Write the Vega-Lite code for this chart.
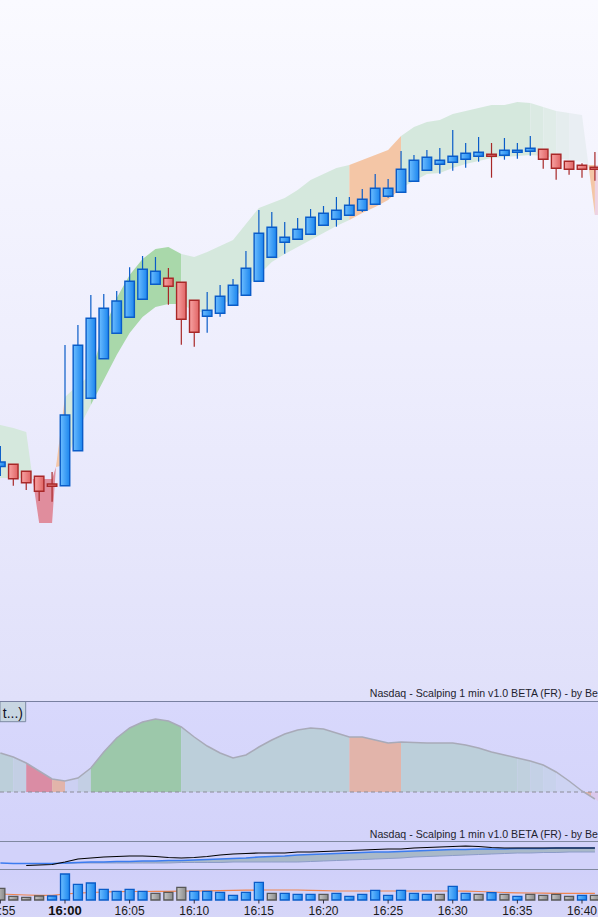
{
"$schema": "https://vega.github.io/schema/vega-lite/v6.json",
"background": "#D8D8FA",
"padding": 0,
"autosize": {"type": "none"},
"width": 598,
"height": 917,
"config": {"view": {"stroke": null}, "scale": {"continuousPadding": 0}},
"resolve": {"scale": {"y": "independent", "color": "independent"}},
"datasets": {
"candles": [
{"t":"2024-01-02T15:55:00","o":234.5,"h":255,"l":225,"c":239,"vol":117,"vc":"dn","vma":60,"osc":39,"blu":6},
{"t":"2024-01-02T15:56:00","o":236.7,"h":236.7,"l":215.3,"c":222.3,"vol":37,"vc":"dn","vma":55,"osc":35,"blu":5.5},
{"t":"2024-01-02T15:57:00","o":229.7,"h":229.7,"l":211,"c":218.3,"vol":27,"vc":"dn","vma":50,"osc":29,"blk":3.5,"blu":5.5},
{"t":"2024-01-02T15:58:00","o":224.7,"h":224.7,"l":200,"c":209.7,"vol":40,"vc":"dn","vma":47,"osc":21,"blk":4,"blu":5.5},
{"t":"2024-01-02T15:59:00","o":217,"h":229,"l":199.3,"c":214.7,"vol":40,"vc":"up","vma":47,"osc":13,"blk":4.5,"blu":5.5},
{"t":"2024-01-02T16:00:00","o":215.3,"h":356,"l":215.3,"c":286,"vol":260,"vc":"up","vma":60,"osc":11,"blk":7,"blu":6,"lwr":5.5},
{"t":"2024-01-02T16:01:00","o":250.3,"h":376,"l":250.3,"c":355.7,"vol":157,"vc":"up","vma":68,"osc":14,"blk":10,"blu":6.5,"lwr":6},
{"t":"2024-01-02T16:02:00","o":302.7,"h":406,"l":302.7,"c":382.7,"vol":170,"vc":"up","vma":75,"osc":24,"blk":11,"blu":7,"lwr":6},
{"t":"2024-01-02T16:03:00","o":342.3,"h":407,"l":342.3,"c":392.7,"vol":107,"vc":"up","vma":80,"osc":40,"blk":12,"blu":7,"lwr":6},
{"t":"2024-01-02T16:04:00","o":367.7,"h":410,"l":367.7,"c":400,"vol":87,"vc":"up","vma":83,"osc":54,"blk":12.5,"blu":7.5,"lwr":6},
{"t":"2024-01-02T16:05:00","o":383.7,"h":433.7,"l":383.7,"c":419.7,"vol":107,"vc":"up","vma":85,"osc":64,"blk":13,"blu":7.5,"lwr":6},
{"t":"2024-01-02T16:06:00","o":401.7,"h":445,"l":401.7,"c":431.7,"vol":87,"vc":"up","vma":85,"osc":70,"blk":13,"blu":8,"lwr":6},
{"t":"2024-01-02T16:07:00","o":416.7,"h":444,"l":416.7,"c":429.7,"vol":67,"vc":"dn","vma":86,"osc":73,"blk":12.5,"blu":8,"lwr":6},
{"t":"2024-01-02T16:08:00","o":422.7,"h":433,"l":396.3,"c":414.7,"vol":77,"vc":"dn","vma":87,"osc":71,"blk":11.5,"blu":8.5,"lwr":6},
{"t":"2024-01-02T16:09:00","o":418.7,"h":418.7,"l":356.3,"c":381.7,"vol":127,"vc":"dn","vma":88,"osc":65,"blk":11,"blu":8.5,"lwr":6.5},
{"t":"2024-01-02T16:10:00","o":400.7,"h":400.7,"l":354.3,"c":368.7,"vol":87,"vc":"up","vma":90,"osc":55,"blk":11.5,"blu":9,"lwr":6.5},
{"t":"2024-01-02T16:11:00","o":384.7,"h":409,"l":368.3,"c":390.7,"vol":87,"vc":"up","vma":92,"osc":46,"blk":12.5,"blu":9.5,"lwr":6.5},
{"t":"2024-01-02T16:12:00","o":387.7,"h":416,"l":384.3,"c":404.7,"vol":77,"vc":"up","vma":94,"osc":39,"blk":14,"blu":10,"lwr":6.5},
{"t":"2024-01-02T16:13:00","o":395.7,"h":422,"l":395.7,"c":415.7,"vol":47,"vc":"up","vma":96,"osc":34,"blk":15,"blu":10.5,"lwr":7},
{"t":"2024-01-02T16:14:00","o":405.7,"h":450,"l":405.7,"c":432.7,"vol":77,"vc":"up","vma":98,"osc":37,"blk":15.5,"blu":11,"lwr":7},
{"t":"2024-01-02T16:15:00","o":419.7,"h":491,"l":419.7,"c":467.7,"vol":177,"vc":"up","vma":100,"osc":45,"blk":16,"blu":12,"lwr":7},
{"t":"2024-01-02T16:16:00","o":443.7,"h":489,"l":443.7,"c":473.7,"vol":67,"vc":"dn","vma":100,"osc":52,"blk":16,"blu":12.5,"lwr":7},
{"t":"2024-01-02T16:17:00","o":458.7,"h":479,"l":447.3,"c":463.7,"vol":67,"vc":"up","vma":100,"osc":58,"blk":16,"blu":13,"lwr":7},
{"t":"2024-01-02T16:18:00","o":461.7,"h":483,"l":461.7,"c":471.7,"vol":57,"vc":"up","vma":100,"osc":62,"blk":17,"blu":14,"lwr":7},
{"t":"2024-01-02T16:19:00","o":466.7,"h":492,"l":466.7,"c":483.7,"vol":57,"vc":"up","vma":97,"osc":64,"blk":17,"blu":14.5,"lwr":7.5},
{"t":"2024-01-02T16:20:00","o":475.7,"h":495,"l":475.7,"c":487.7,"vol":57,"vc":"dn","vma":93,"osc":63,"blk":17.5,"blu":15,"lwr":8},
{"t":"2024-01-02T16:21:00","o":481.7,"h":504,"l":474.3,"c":490.7,"vol":67,"vc":"up","vma":90,"osc":59,"blk":18,"blu":15.5,"lwr":8.5},
{"t":"2024-01-02T16:22:00","o":485.7,"h":504,"l":485.7,"c":495.7,"vol":37,"vc":"up","vma":90,"osc":55,"blk":18.5,"blu":16,"lwr":9},
{"t":"2024-01-02T16:23:00","o":490.7,"h":512,"l":489,"c":501.7,"vol":57,"vc":"up","vma":90,"osc":55,"blk":19,"blu":16.5,"lwr":9.5},
{"t":"2024-01-02T16:24:00","o":496.7,"h":527,"l":496.7,"c":512.7,"vol":97,"vc":"up","vma":90,"osc":52,"blk":19.5,"blu":17,"lwr":10},
{"t":"2024-01-02T16:25:00","o":504.7,"h":522,"l":503.3,"c":512.7,"vol":47,"vc":"up","vma":90,"osc":49,"blk":20,"blu":17,"lwr":10.5},
{"t":"2024-01-02T16:26:00","o":508.7,"h":550,"l":508.7,"c":531.7,"vol":97,"vc":"up","vma":90,"osc":50,"blk":20,"blu":17.5,"lwr":11},
{"t":"2024-01-02T16:27:00","o":519.7,"h":546,"l":519.7,"c":540.7,"vol":67,"vc":"up","vma":90,"osc":49.5,"blk":21,"blu":18,"lwr":12},
{"t":"2024-01-02T16:28:00","o":530.7,"h":551,"l":530.7,"c":543.7,"vol":57,"vc":"up","vma":90,"osc":49,"blk":21.5,"blu":18.5,"lwr":12.5},
{"t":"2024-01-02T16:29:00","o":536.7,"h":553,"l":527.3,"c":540.7,"vol":57,"vc":"dn","vma":90,"osc":49,"blk":22,"blu":19,"lwr":13},
{"t":"2024-01-02T16:30:00","o":538.7,"h":571,"l":530.3,"c":544.7,"vol":137,"vc":"up","vma":90,"osc":49,"blk":22.5,"blu":19.5,"lwr":13.5},
{"t":"2024-01-02T16:31:00","o":541.7,"h":558,"l":533.3,"c":547.7,"vol":67,"vc":"up","vma":88,"osc":47,"blk":23,"blu":19.5,"lwr":14},
{"t":"2024-01-02T16:32:00","o":544.7,"h":564,"l":539.3,"c":548.7,"vol":57,"vc":"dn","vma":85,"osc":44,"blk":22.5,"blu":20,"lwr":14.5},
{"t":"2024-01-02T16:33:00","o":546.7,"h":558,"l":523.3,"c":544.7,"vol":73,"vc":"up","vma":80,"osc":40,"blk":21.5,"blu":20,"lwr":15},
{"t":"2024-01-02T16:34:00","o":545.7,"h":563,"l":541.3,"c":550.7,"vol":57,"vc":"dn","vma":75,"osc":37,"blk":21,"blu":20,"lwr":15.5},
{"t":"2024-01-02T16:35:00","o":548.7,"h":558,"l":542.3,"c":550.7,"vol":37,"vc":"up","vma":72,"osc":34,"blk":21,"blu":20.5,"lwr":16},
{"t":"2024-01-02T16:36:00","o":549.7,"h":565,"l":545.3,"c":552.7,"vol":57,"vc":"dn","vma":70,"osc":31,"blk":21,"blu":20.5,"lwr":16},
{"t":"2024-01-02T16:37:00","o":551.7,"h":551.7,"l":532.3,"c":541.7,"vol":47,"vc":"dn","vma":68,"osc":27,"blk":21,"blu":20.5,"lwr":16.5},
{"t":"2024-01-02T16:38:00","o":546.7,"h":546.7,"l":521.3,"c":532.7,"vol":57,"vc":"dn","vma":67,"osc":20,"blk":21,"blu":21,"lwr":16.5},
{"t":"2024-01-02T16:39:00","o":539.7,"h":539.7,"l":526.3,"c":531.7,"vol":37,"vc":"dn","vma":67,"osc":11,"blk":21,"blu":21,"lwr":17},
{"t":"2024-01-02T16:40:00","o":535.7,"h":537.7,"l":523.3,"c":531.7,"vol":47,"vc":"up","vma":67,"osc":1,"blk":21,"blu":21,"lwr":17},
{"t":"2024-01-02T16:41:00","o":533.7,"h":549,"l":520.3,"c":531.7,"vol":47,"vc":"dn","vma":67,"osc":-7,"blk":21,"blu":21,"lwr":17}
],
"band": [
{"t":"2024-01-02T15:54:58.300","seg":"s1","zone":"light","hi":276,"lo":223},
{"t":"2024-01-02T15:55:00","seg":"s1","zone":"light","hi":276,"lo":223},
{"t":"2024-01-02T15:56:00","seg":"s1","zone":"light","hi":273,"lo":223},
{"t":"2024-01-02T15:57:00","seg":"s1","zone":"light","hi":269,"lo":223},
{"t":"2024-01-02T15:57:30","seg":"s1","zone":"light","hi":222,"lo":222},
{"t":"2024-01-02T15:57:30","seg":"s2","zone":"red","hi":222,"lo":222},
{"t":"2024-01-02T15:58:00","seg":"s2","zone":"red","hi":222,"lo":178},
{"t":"2024-01-02T15:59:00","seg":"s2","zone":"red","hi":222,"lo":178},
{"t":"2024-01-02T15:59:18","seg":"s2","zone":"red","hi":234,"lo":234},
{"t":"2024-01-02T15:59:18","seg":"s3","zone":"orange","hi":234,"lo":234},
{"t":"2024-01-02T16:00:00","seg":"s3","zone":"orange","hi":304,"lo":236},
{"t":"2024-01-02T16:00:00","seg":"s4","zone":"light","hi":304,"lo":236},
{"t":"2024-01-02T16:01:00","seg":"s4","zone":"light","hi":316,"lo":271},
{"t":"2024-01-02T16:02:00","seg":"s4","zone":"light","hi":326,"lo":296},
{"t":"2024-01-02T16:02:00","seg":"s5","zone":"green","hi":326,"lo":296},
{"t":"2024-01-02T16:03:00","seg":"s5","zone":"green","hi":371,"lo":321},
{"t":"2024-01-02T16:04:00","seg":"s5","zone":"green","hi":403,"lo":346},
{"t":"2024-01-02T16:05:00","seg":"s5","zone":"green","hi":426,"lo":368},
{"t":"2024-01-02T16:06:00","seg":"s5","zone":"green","hi":442,"lo":384},
{"t":"2024-01-02T16:07:00","seg":"s5","zone":"green","hi":452,"lo":394},
{"t":"2024-01-02T16:08:00","seg":"s5","zone":"green","hi":454,"lo":397},
{"t":"2024-01-02T16:09:00","seg":"s5","zone":"green","hi":447,"lo":397},
{"t":"2024-01-02T16:09:00","seg":"s6","zone":"light","hi":447,"lo":397},
{"t":"2024-01-02T16:10:00","seg":"s6","zone":"light","hi":444,"lo":390},
{"t":"2024-01-02T16:11:00","seg":"s6","zone":"light","hi":449,"lo":388},
{"t":"2024-01-02T16:12:00","seg":"s6","zone":"light","hi":455,"lo":395},
{"t":"2024-01-02T16:13:00","seg":"s6","zone":"light","hi":461,"lo":403},
{"t":"2024-01-02T16:14:00","seg":"s6","zone":"light","hi":477,"lo":413},
{"t":"2024-01-02T16:15:00","seg":"s6","zone":"light","hi":493,"lo":426},
{"t":"2024-01-02T16:16:00","seg":"s6","zone":"light","hi":498,"lo":439},
{"t":"2024-01-02T16:17:00","seg":"s6","zone":"light","hi":503,"lo":447},
{"t":"2024-01-02T16:18:00","seg":"s6","zone":"light","hi":511,"lo":454},
{"t":"2024-01-02T16:19:00","seg":"s6","zone":"light","hi":521,"lo":461},
{"t":"2024-01-02T16:20:00","seg":"s6","zone":"light","hi":527,"lo":468},
{"t":"2024-01-02T16:21:00","seg":"s6","zone":"light","hi":533,"lo":475},
{"t":"2024-01-02T16:22:00","seg":"s6","zone":"light","hi":536,"lo":481},
{"t":"2024-01-02T16:22:00","seg":"s7","zone":"orange","hi":536,"lo":481},
{"t":"2024-01-02T16:23:00","seg":"s7","zone":"orange","hi":541,"lo":488},
{"t":"2024-01-02T16:24:00","seg":"s7","zone":"orange","hi":546,"lo":494},
{"t":"2024-01-02T16:25:00","seg":"s7","zone":"orange","hi":551,"lo":501},
{"t":"2024-01-02T16:26:00","seg":"s7","zone":"orange","hi":565,"lo":513},
{"t":"2024-01-02T16:26:00","seg":"s8","zone":"light","hi":565,"lo":513},
{"t":"2024-01-02T16:27:00","seg":"s8","zone":"light","hi":574,"lo":520},
{"t":"2024-01-02T16:28:00","seg":"s8","zone":"light","hi":579,"lo":527},
{"t":"2024-01-02T16:29:00","seg":"s8","zone":"light","hi":581,"lo":528},
{"t":"2024-01-02T16:30:00","seg":"s8","zone":"light","hi":587,"lo":533},
{"t":"2024-01-02T16:31:00","seg":"s8","zone":"light","hi":590,"lo":537},
{"t":"2024-01-02T16:32:00","seg":"s8","zone":"light","hi":593,"lo":540},
{"t":"2024-01-02T16:33:00","seg":"s8","zone":"light","hi":596,"lo":543},
{"t":"2024-01-02T16:34:00","seg":"s8","zone":"light","hi":596,"lo":544},
{"t":"2024-01-02T16:35:00","seg":"s8","zone":"light","hi":599,"lo":545},
{"t":"2024-01-02T16:36:00","seg":"s8","zone":"light","hi":598,"lo":546},
{"t":"2024-01-02T16:36:00","seg":"s9","zone":"f1","hi":598,"lo":546},
{"t":"2024-01-02T16:37:00","seg":"s9","zone":"f1","hi":594,"lo":545},
{"t":"2024-01-02T16:37:00","seg":"s10","zone":"f2","hi":594,"lo":545},
{"t":"2024-01-02T16:38:00","seg":"s10","zone":"f2","hi":590,"lo":543},
{"t":"2024-01-02T16:38:00","seg":"s11","zone":"f3","hi":590,"lo":543},
{"t":"2024-01-02T16:39:00","seg":"s11","zone":"f3","hi":588,"lo":541},
{"t":"2024-01-02T16:39:00","seg":"s12","zone":"f4","hi":588,"lo":541},
{"t":"2024-01-02T16:40:00","seg":"s12","zone":"f4","hi":586,"lo":539},
{"t":"2024-01-02T16:40:30","seg":"s12","zone":"f4","hi":536,"lo":536},
{"t":"2024-01-02T16:40:30","seg":"s13","zone":"orange","hi":536,"lo":536},
{"t":"2024-01-02T16:41:00","seg":"s13","zone":"orange","hi":536,"lo":486},
{"t":"2024-01-02T16:41:00","seg":"s14","zone":"pinkf","hi":536,"lo":486},
{"t":"2024-01-02T16:41:14","seg":"s14","zone":"pinkf","hi":536,"lo":486}
],
"oscseg": [
{"t":"2024-01-02T15:54:58.300","iseg":"i1","iz":"ia","v":39.5},
{"t":"2024-01-02T15:55:00","iseg":"i1","iz":"ia","v":39},
{"t":"2024-01-02T15:56:00","iseg":"i1","iz":"ia","v":35},
{"t":"2024-01-02T15:56:00","iseg":"i2","iz":"ib","v":35},
{"t":"2024-01-02T15:57:00","iseg":"i2","iz":"ib","v":29},
{"t":"2024-01-02T15:57:00","iseg":"i3","iz":"ired","v":29},
{"t":"2024-01-02T15:58:00","iseg":"i3","iz":"ired","v":21},
{"t":"2024-01-02T15:59:00","iseg":"i3","iz":"ired","v":13},
{"t":"2024-01-02T15:59:00","iseg":"i4","iz":"iorange","v":13},
{"t":"2024-01-02T16:00:00","iseg":"i4","iz":"iorange","v":11},
{"t":"2024-01-02T16:00:00","iseg":"i5","iz":"ilav","v":11},
{"t":"2024-01-02T16:01:00","iseg":"i5","iz":"ilav","v":14},
{"t":"2024-01-02T16:01:00","iseg":"i6","iz":"ib","v":14},
{"t":"2024-01-02T16:02:00","iseg":"i6","iz":"ib","v":24},
{"t":"2024-01-02T16:02:00","iseg":"i7","iz":"igreen","v":24},
{"t":"2024-01-02T16:03:00","iseg":"i7","iz":"igreen","v":40},
{"t":"2024-01-02T16:04:00","iseg":"i7","iz":"igreen","v":54},
{"t":"2024-01-02T16:05:00","iseg":"i7","iz":"igreen","v":64},
{"t":"2024-01-02T16:06:00","iseg":"i7","iz":"igreen","v":70},
{"t":"2024-01-02T16:07:00","iseg":"i7","iz":"igreen","v":73},
{"t":"2024-01-02T16:08:00","iseg":"i7","iz":"igreen","v":71},
{"t":"2024-01-02T16:09:00","iseg":"i7","iz":"igreen","v":65},
{"t":"2024-01-02T16:09:00","iseg":"i8","iz":"ia","v":65},
{"t":"2024-01-02T16:10:00","iseg":"i8","iz":"ia","v":55},
{"t":"2024-01-02T16:11:00","iseg":"i8","iz":"ia","v":46},
{"t":"2024-01-02T16:12:00","iseg":"i8","iz":"ia","v":39},
{"t":"2024-01-02T16:13:00","iseg":"i8","iz":"ia","v":34},
{"t":"2024-01-02T16:14:00","iseg":"i8","iz":"ia","v":37},
{"t":"2024-01-02T16:15:00","iseg":"i8","iz":"ia","v":45},
{"t":"2024-01-02T16:16:00","iseg":"i8","iz":"ia","v":52},
{"t":"2024-01-02T16:17:00","iseg":"i8","iz":"ia","v":58},
{"t":"2024-01-02T16:18:00","iseg":"i8","iz":"ia","v":62},
{"t":"2024-01-02T16:19:00","iseg":"i8","iz":"ia","v":64},
{"t":"2024-01-02T16:20:00","iseg":"i8","iz":"ia","v":63},
{"t":"2024-01-02T16:21:00","iseg":"i8","iz":"ia","v":59},
{"t":"2024-01-02T16:22:00","iseg":"i8","iz":"ia","v":55},
{"t":"2024-01-02T16:22:00","iseg":"i9","iz":"iorange","v":55},
{"t":"2024-01-02T16:23:00","iseg":"i9","iz":"iorange","v":55},
{"t":"2024-01-02T16:24:00","iseg":"i9","iz":"iorange","v":52},
{"t":"2024-01-02T16:25:00","iseg":"i9","iz":"iorange","v":49},
{"t":"2024-01-02T16:26:00","iseg":"i9","iz":"iorange","v":50},
{"t":"2024-01-02T16:26:00","iseg":"i10","iz":"ia","v":50},
{"t":"2024-01-02T16:27:00","iseg":"i10","iz":"ia","v":49.5},
{"t":"2024-01-02T16:28:00","iseg":"i10","iz":"ia","v":49},
{"t":"2024-01-02T16:29:00","iseg":"i10","iz":"ia","v":49},
{"t":"2024-01-02T16:30:00","iseg":"i10","iz":"ia","v":49},
{"t":"2024-01-02T16:31:00","iseg":"i10","iz":"ia","v":47},
{"t":"2024-01-02T16:32:00","iseg":"i10","iz":"ia","v":44},
{"t":"2024-01-02T16:33:00","iseg":"i10","iz":"ia","v":40},
{"t":"2024-01-02T16:34:00","iseg":"i10","iz":"ia","v":37},
{"t":"2024-01-02T16:35:00","iseg":"i10","iz":"ia","v":34},
{"t":"2024-01-02T16:35:00","iseg":"i11","iz":"if1","v":34},
{"t":"2024-01-02T16:36:00","iseg":"i11","iz":"if1","v":31},
{"t":"2024-01-02T16:36:00","iseg":"i12","iz":"if2","v":31},
{"t":"2024-01-02T16:37:00","iseg":"i12","iz":"if2","v":27},
{"t":"2024-01-02T16:37:00","iseg":"i13","iz":"if3","v":27},
{"t":"2024-01-02T16:38:00","iseg":"i13","iz":"if3","v":20},
{"t":"2024-01-02T16:38:00","iseg":"i14","iz":"if4","v":20},
{"t":"2024-01-02T16:39:00","iseg":"i14","iz":"if4","v":11},
{"t":"2024-01-02T16:40:00","iseg":"i14","iz":"if4","v":1},
{"t":"2024-01-02T16:40:00","iseg":"i15","iz":"iorange","v":1},
{"t":"2024-01-02T16:40:42","iseg":"i15","iz":"iorange","v":-4.6},
{"t":"2024-01-02T16:40:42","iseg":"i16","iz":"ipink","v":-4.6},
{"t":"2024-01-02T16:41:00","iseg":"i16","iz":"ipink","v":-7},
{"t":"2024-01-02T16:41:14","iseg":"i16","iz":"ipink","v":-9}
],
"ticks": [
{"t":"2024-01-02T15:55:00","lab":"15:55"},
{"t":"2024-01-02T16:00:00","lab":"16:00"},
{"t":"2024-01-02T16:05:00","lab":"16:05"},
{"t":"2024-01-02T16:10:00","lab":"16:10"},
{"t":"2024-01-02T16:15:00","lab":"16:15"},
{"t":"2024-01-02T16:20:00","lab":"16:20"},
{"t":"2024-01-02T16:25:00","lab":"16:25"},
{"t":"2024-01-02T16:30:00","lab":"16:30"},
{"t":"2024-01-02T16:35:00","lab":"16:35"},
{"t":"2024-01-02T16:40:00","lab":"16:40"}
],
"titles": [
{"t":"2024-01-02T16:41:14.300","txt":"Nasdaq - Scalping 1 min v1.0 BETA (FR) - by Be"}
],
"box": [
{"t0":"2024-01-02T15:54:58.300","t1":"2024-01-02T15:56:57.500","tt":"2024-01-02T15:55:11","txt":"t...)"}
],
"one": [{}]
},
"layer": [
{"data": {"name": "one"},
 "mark": {"type": "rect", "clip": true, "fill": {"gradient": "linear", "x1": 0, "y1": 0, "x2": 0, "y2": 1, "stops": [{"offset": 0, "color": "#FAFAFF"}, {"offset": 0.5, "color": "#EEEEFD"}, {"offset": 1, "color": "#E0E0FA"}]}},
 "encoding": {
  "x": {"datum": {"year":2024,"month":1,"date":2,"hours":15,"minutes":54,"seconds":58,"milliseconds":260}, "type": "temporal", "scale": {"domain": [{"year":2024,"month":1,"date":2,"hours":15,"minutes":54,"seconds":58,"milliseconds":260},{"year":2024,"month":1,"date":2,"hours":16,"minutes":41,"seconds":14,"milliseconds":300}], "nice": false, "padding": 0}, "axis": null},
  "x2": {"datum": {"year":2024,"month":1,"date":2,"hours":16,"minutes":41,"seconds":14,"milliseconds":300}},
  "y": {"datum": 0, "type": "quantitative", "scale": {"domain": [0, 701], "range": [701, 0], "nice": false, "zero": false}, "axis": null},
  "y2": {"datum": 701}}},
{"data": {"name": "band"},
 "mark": {"type": "area", "clip": true, "interpolate": "linear"},
 "encoding": {
  "x": {"field": "t", "type": "temporal", "scale": {"domain": [{"year":2024,"month":1,"date":2,"hours":15,"minutes":54,"seconds":58,"milliseconds":260},{"year":2024,"month":1,"date":2,"hours":16,"minutes":41,"seconds":14,"milliseconds":300}], "nice": false, "padding": 0}, "axis": null},
  "y": {"field": "hi", "type": "quantitative", "stack": null, "scale": {"domain": [0, 701], "range": [701, 0], "nice": false, "zero": false}, "axis": null},
  "y2": {"field": "lo"},
  "color": {"field": "zone", "type": "nominal", "legend": null, "scale": {"domain": ["light","green","orange","red","f1","f2","f3","f4","pinkf"], "range": ["#D5E8DD","#A9D8AA","#F4C6A6","#E08D9D","#DBEAE3","#E0ECE8","#E5EDEE","#E9EEF3","#EDD2E2"]}},
  "detail": {"field": "seg"}}},
{"data": {"name": "candles"},
 "transform": [{"filter": "datum.c >= datum.o"}],
 "mark": {"type": "rule", "clip": true, "color": "#0A5CC8", "strokeWidth": 1.2},
 "encoding": {
  "x": {"field": "t", "type": "temporal", "scale": {"domain": [{"year":2024,"month":1,"date":2,"hours":15,"minutes":54,"seconds":58,"milliseconds":260},{"year":2024,"month":1,"date":2,"hours":16,"minutes":41,"seconds":14,"milliseconds":300}], "nice": false, "padding": 0}, "axis": null},
  "y": {"field": "h", "type": "quantitative", "scale": {"domain": [0, 701], "range": [701, 0], "nice": false, "zero": false}, "axis": null},
  "y2": {"field": "l"}}},
{"data": {"name": "candles"},
 "transform": [{"filter": "datum.c < datum.o"}],
 "mark": {"type": "rule", "clip": true, "color": "#A82828", "strokeWidth": 1.2},
 "encoding": {
  "x": {"field": "t", "type": "temporal", "scale": {"domain": [{"year":2024,"month":1,"date":2,"hours":15,"minutes":54,"seconds":58,"milliseconds":260},{"year":2024,"month":1,"date":2,"hours":16,"minutes":41,"seconds":14,"milliseconds":300}], "nice": false, "padding": 0}, "axis": null},
  "y": {"field": "h", "type": "quantitative", "scale": {"domain": [0, 701], "range": [701, 0], "nice": false, "zero": false}, "axis": null},
  "y2": {"field": "l"}}},
{"data": {"name": "candles"},
 "transform": [{"filter": "datum.c >= datum.o"}],
 "mark": {"type": "bar", "clip": true, "size": 9.5, "stroke": "#0A5CC8", "strokeWidth": 1.4, "fill": {"gradient": "linear", "x1": 0, "y1": 0, "x2": 1, "y2": 0, "stops": [{"offset": 0, "color": "#6CBDFF"}, {"offset": 1, "color": "#1C86EE"}]}},
 "encoding": {
  "x": {"field": "t", "type": "temporal", "scale": {"domain": [{"year":2024,"month":1,"date":2,"hours":15,"minutes":54,"seconds":58,"milliseconds":260},{"year":2024,"month":1,"date":2,"hours":16,"minutes":41,"seconds":14,"milliseconds":300}], "nice": false, "padding": 0}, "axis": null},
  "y": {"field": "o", "type": "quantitative", "scale": {"domain": [0, 701], "range": [701, 0], "nice": false, "zero": false}, "axis": null},
  "y2": {"field": "c"}}},
{"data": {"name": "candles"},
 "transform": [{"filter": "datum.c < datum.o"}],
 "mark": {"type": "bar", "clip": true, "size": 9.5, "stroke": "#A82828", "strokeWidth": 1.4, "fill": {"gradient": "linear", "x1": 0, "y1": 0, "x2": 1, "y2": 0, "stops": [{"offset": 0, "color": "#F8A4A4"}, {"offset": 1, "color": "#E06464"}]}},
 "encoding": {
  "x": {"field": "t", "type": "temporal", "scale": {"domain": [{"year":2024,"month":1,"date":2,"hours":15,"minutes":54,"seconds":58,"milliseconds":260},{"year":2024,"month":1,"date":2,"hours":16,"minutes":41,"seconds":14,"milliseconds":300}], "nice": false, "padding": 0}, "axis": null},
  "y": {"field": "o", "type": "quantitative", "scale": {"domain": [0, 701], "range": [701, 0], "nice": false, "zero": false}, "axis": null},
  "y2": {"field": "c"}}},
{"data": {"name": "titles"},
 "mark": {"type": "text", "clip": true, "align": "right", "baseline": "alphabetic", "font": "Liberation Sans", "fontSize": 10.6, "color": "#1E1E2E"},
 "encoding": {
  "x": {"field": "t", "type": "temporal", "scale": {"domain": [{"year":2024,"month":1,"date":2,"hours":15,"minutes":54,"seconds":58,"milliseconds":260},{"year":2024,"month":1,"date":2,"hours":16,"minutes":41,"seconds":14,"milliseconds":300}], "nice": false, "padding": 0}, "axis": null},
  "y": {"datum": 4, "type": "quantitative", "scale": {"domain": [0, 701], "range": [701, 0], "nice": false, "zero": false}, "axis": null},
  "text": {"field": "txt"}}},

{"data": {"name": "one"},
 "mark": {"type": "rect", "clip": true, "fill": {"gradient": "linear", "x1": 0, "y1": 0, "x2": 0, "y2": 1, "stops": [{"offset": 0, "color": "#D8D8FC"}, {"offset": 1, "color": "#D3D3FA"}]}},
 "encoding": {
  "x": {"datum": {"year":2024,"month":1,"date":2,"hours":15,"minutes":54,"seconds":58,"milliseconds":260}, "type": "temporal", "scale": {"domain": [{"year":2024,"month":1,"date":2,"hours":15,"minutes":54,"seconds":58,"milliseconds":260},{"year":2024,"month":1,"date":2,"hours":16,"minutes":41,"seconds":14,"milliseconds":300}], "nice": false, "padding": 0}, "axis": null},
  "x2": {"datum": {"year":2024,"month":1,"date":2,"hours":16,"minutes":41,"seconds":14,"milliseconds":300}},
  "y": {"datum": -49, "type": "quantitative", "scale": {"domain": [-49, 91], "range": [841, 701], "nice": false, "zero": false}, "axis": null},
  "y2": {"datum": 91}}},
{"data": {"name": "oscseg"},
 "mark": {"type": "area", "clip": true, "interpolate": "linear"},
 "encoding": {
  "x": {"field": "t", "type": "temporal", "scale": {"domain": [{"year":2024,"month":1,"date":2,"hours":15,"minutes":54,"seconds":58,"milliseconds":260},{"year":2024,"month":1,"date":2,"hours":16,"minutes":41,"seconds":14,"milliseconds":300}], "nice": false, "padding": 0}, "axis": null},
  "y": {"field": "v", "type": "quantitative", "stack": null, "scale": {"domain": [-49, 91], "range": [841, 701], "nice": false, "zero": false}, "axis": null},
  "y2": {"datum": 0},
  "color": {"field": "iz", "type": "nominal", "legend": null, "scale": {"domain": ["ia","ib","ired","iorange","ilav","igreen","if1","if2","if3","if4","ipink"], "range": ["#BCCFDA","#C3CFE4","#DA8CA4","#E2B4AA","#CCD0F2","#9CC8AA","#C0D0DE","#C4D1E6","#C8D2EC","#CDD3F2","#DAC8EC"]}},
  "detail": {"field": "iseg"}}},
{"data": {"name": "one"},
 "mark": {"type": "rule", "clip": true, "color": "#8C8C98", "strokeWidth": 1, "strokeDash": [4, 3]},
 "encoding": {
  "x": {"datum": {"year":2024,"month":1,"date":2,"hours":15,"minutes":54,"seconds":58,"milliseconds":260}, "type": "temporal", "scale": {"domain": [{"year":2024,"month":1,"date":2,"hours":15,"minutes":54,"seconds":58,"milliseconds":260},{"year":2024,"month":1,"date":2,"hours":16,"minutes":41,"seconds":14,"milliseconds":300}], "nice": false, "padding": 0}, "axis": null},
  "x2": {"datum": {"year":2024,"month":1,"date":2,"hours":16,"minutes":41,"seconds":14,"milliseconds":300}},
  "y": {"datum": 0, "type": "quantitative", "scale": {"domain": [-49, 91], "range": [841, 701], "nice": false, "zero": false}, "axis": null}}},
{"data": {"name": "candles"},
 "mark": {"type": "line", "clip": true, "color": "#A8AAB8", "strokeWidth": 1.5},
 "encoding": {
  "x": {"field": "t", "type": "temporal", "scale": {"domain": [{"year":2024,"month":1,"date":2,"hours":15,"minutes":54,"seconds":58,"milliseconds":260},{"year":2024,"month":1,"date":2,"hours":16,"minutes":41,"seconds":14,"milliseconds":300}], "nice": false, "padding": 0}, "axis": null},
  "y": {"field": "osc", "type": "quantitative", "scale": {"domain": [-49, 91], "range": [841, 701], "nice": false, "zero": false}, "axis": null}}},
{"data": {"name": "box"},
 "mark": {"type": "rect", "clip": true, "fill": "#C8D6E2", "stroke": "#7C8AA2", "strokeWidth": 1},
 "encoding": {
  "x": {"field": "t0", "type": "temporal", "scale": {"domain": [{"year":2024,"month":1,"date":2,"hours":15,"minutes":54,"seconds":58,"milliseconds":260},{"year":2024,"month":1,"date":2,"hours":16,"minutes":41,"seconds":14,"milliseconds":300}], "nice": false, "padding": 0}, "axis": null},
  "x2": {"field": "t1"},
  "y": {"datum": 90.5, "type": "quantitative", "scale": {"domain": [-49, 91], "range": [841, 701], "nice": false, "zero": false}, "axis": null},
  "y2": {"datum": 70.3}}},
{"data": {"name": "box"},
 "mark": {"type": "text", "clip": true, "align": "left", "baseline": "alphabetic", "font": "Liberation Sans", "fontSize": 14, "color": "#101028"},
 "encoding": {
  "x": {"field": "tt", "type": "temporal", "scale": {"domain": [{"year":2024,"month":1,"date":2,"hours":15,"minutes":54,"seconds":58,"milliseconds":260},{"year":2024,"month":1,"date":2,"hours":16,"minutes":41,"seconds":14,"milliseconds":300}], "nice": false, "padding": 0}, "axis": null},
  "y": {"datum": 74.5, "type": "quantitative", "scale": {"domain": [-49, 91], "range": [841, 701], "nice": false, "zero": false}, "axis": null},
  "text": {"field": "txt"}}},
{"data": {"name": "titles"},
 "mark": {"type": "text", "clip": true, "align": "right", "baseline": "alphabetic", "font": "Liberation Sans", "fontSize": 10.6, "color": "#1E1E2E"},
 "encoding": {
  "x": {"field": "t", "type": "temporal", "scale": {"domain": [{"year":2024,"month":1,"date":2,"hours":15,"minutes":54,"seconds":58,"milliseconds":260},{"year":2024,"month":1,"date":2,"hours":16,"minutes":41,"seconds":14,"milliseconds":300}], "nice": false, "padding": 0}, "axis": null},
  "y": {"datum": -46, "type": "quantitative", "scale": {"domain": [-49, 91], "range": [841, 701], "nice": false, "zero": false}, "axis": null},
  "text": {"field": "txt"}}},
{"data": {"name": "one"},
 "mark": {"type": "rule", "clip": true, "color": "#7880A0", "strokeWidth": 1},
 "encoding": {
  "x": {"datum": {"year":2024,"month":1,"date":2,"hours":15,"minutes":54,"seconds":58,"milliseconds":260}, "type": "temporal", "scale": {"domain": [{"year":2024,"month":1,"date":2,"hours":15,"minutes":54,"seconds":58,"milliseconds":260},{"year":2024,"month":1,"date":2,"hours":16,"minutes":41,"seconds":14,"milliseconds":300}], "nice": false, "padding": 0}, "axis": null},
  "x2": {"datum": {"year":2024,"month":1,"date":2,"hours":16,"minutes":41,"seconds":14,"milliseconds":300}},
  "y": {"datum": 90.5, "type": "quantitative", "scale": {"domain": [-49, 91], "range": [841, 701], "nice": false, "zero": false}, "axis": null}}},

{"data": {"name": "one"},
 "mark": {"type": "rect", "clip": true, "fill": "#D2D2FA"},
 "encoding": {
  "x": {"datum": {"year":2024,"month":1,"date":2,"hours":15,"minutes":54,"seconds":58,"milliseconds":260}, "type": "temporal", "scale": {"domain": [{"year":2024,"month":1,"date":2,"hours":15,"minutes":54,"seconds":58,"milliseconds":260},{"year":2024,"month":1,"date":2,"hours":16,"minutes":41,"seconds":14,"milliseconds":300}], "nice": false, "padding": 0}, "axis": null},
  "x2": {"datum": {"year":2024,"month":1,"date":2,"hours":16,"minutes":41,"seconds":14,"milliseconds":300}},
  "y": {"datum": 0, "type": "quantitative", "scale": {"domain": [0, 28], "range": [869, 841], "nice": false, "zero": false}, "axis": null},
  "y2": {"datum": 28}}},
{"data": {"name": "candles"},
 "mark": {"type": "area", "clip": true, "color": "#A9B9C9"},
 "encoding": {
  "x": {"field": "t", "type": "temporal", "scale": {"domain": [{"year":2024,"month":1,"date":2,"hours":15,"minutes":54,"seconds":58,"milliseconds":260},{"year":2024,"month":1,"date":2,"hours":16,"minutes":41,"seconds":14,"milliseconds":300}], "nice": false, "padding": 0}, "axis": null},
  "y": {"field": "blu", "type": "quantitative", "stack": null, "scale": {"domain": [0, 28], "range": [869, 841], "nice": false, "zero": false}, "axis": null},
  "y2": {"field": "lwr"}}},
{"data": {"name": "candles"},
 "mark": {"type": "line", "clip": true, "color": "#8C9CC8", "strokeWidth": 1},
 "encoding": {
  "x": {"field": "t", "type": "temporal", "scale": {"domain": [{"year":2024,"month":1,"date":2,"hours":15,"minutes":54,"seconds":58,"milliseconds":260},{"year":2024,"month":1,"date":2,"hours":16,"minutes":41,"seconds":14,"milliseconds":300}], "nice": false, "padding": 0}, "axis": null},
  "y": {"field": "lwr", "type": "quantitative", "scale": {"domain": [0, 28], "range": [869, 841], "nice": false, "zero": false}, "axis": null}}},
{"data": {"name": "candles"},
 "mark": {"type": "line", "clip": true, "color": "#3C7CF0", "strokeWidth": 1.5},
 "encoding": {
  "x": {"field": "t", "type": "temporal", "scale": {"domain": [{"year":2024,"month":1,"date":2,"hours":15,"minutes":54,"seconds":58,"milliseconds":260},{"year":2024,"month":1,"date":2,"hours":16,"minutes":41,"seconds":14,"milliseconds":300}], "nice": false, "padding": 0}, "axis": null},
  "y": {"field": "blu", "type": "quantitative", "scale": {"domain": [0, 28], "range": [869, 841], "nice": false, "zero": false}, "axis": null}}},
{"data": {"name": "candles"},
 "mark": {"type": "line", "clip": true, "color": "#000000", "strokeWidth": 1.2},
 "encoding": {
  "x": {"field": "t", "type": "temporal", "scale": {"domain": [{"year":2024,"month":1,"date":2,"hours":15,"minutes":54,"seconds":58,"milliseconds":260},{"year":2024,"month":1,"date":2,"hours":16,"minutes":41,"seconds":14,"milliseconds":300}], "nice": false, "padding": 0}, "axis": null},
  "y": {"field": "blk", "type": "quantitative", "scale": {"domain": [0, 28], "range": [869, 841], "nice": false, "zero": false}, "axis": null}}},
{"data": {"name": "one"},
 "mark": {"type": "rule", "clip": true, "color": "#8088A0", "strokeWidth": 1},
 "encoding": {
  "x": {"datum": {"year":2024,"month":1,"date":2,"hours":15,"minutes":54,"seconds":58,"milliseconds":260}, "type": "temporal", "scale": {"domain": [{"year":2024,"month":1,"date":2,"hours":15,"minutes":54,"seconds":58,"milliseconds":260},{"year":2024,"month":1,"date":2,"hours":16,"minutes":41,"seconds":14,"milliseconds":300}], "nice": false, "padding": 0}, "axis": null},
  "x2": {"datum": {"year":2024,"month":1,"date":2,"hours":16,"minutes":41,"seconds":14,"milliseconds":300}},
  "y": {"datum": 27.5, "type": "quantitative", "scale": {"domain": [0, 28], "range": [869, 841], "nice": false, "zero": false}, "axis": null}}},

{"data": {"name": "one"},
 "mark": {"type": "rect", "clip": true, "fill": {"gradient": "linear", "x1": 0, "y1": 0, "x2": 0, "y2": 1, "stops": [{"offset": 0, "color": "#D0D0FA"}, {"offset": 1, "color": "#D6D6F8"}]}},
 "encoding": {
  "x": {"datum": {"year":2024,"month":1,"date":2,"hours":15,"minutes":54,"seconds":58,"milliseconds":260}, "type": "temporal", "scale": {"domain": [{"year":2024,"month":1,"date":2,"hours":15,"minutes":54,"seconds":58,"milliseconds":260},{"year":2024,"month":1,"date":2,"hours":16,"minutes":41,"seconds":14,"milliseconds":300}], "nice": false, "padding": 0}, "axis": null},
  "x2": {"datum": {"year":2024,"month":1,"date":2,"hours":16,"minutes":41,"seconds":14,"milliseconds":300}},
  "y": {"datum": -170, "type": "quantitative", "scale": {"domain": [-170, 310], "range": [917, 869], "nice": false, "zero": false}, "axis": null},
  "y2": {"datum": 310}}},
{"data": {"name": "candles"},
 "mark": {"type": "line", "clip": true, "color": "#F08550", "strokeWidth": 1.2},
 "encoding": {
  "x": {"field": "t", "type": "temporal", "scale": {"domain": [{"year":2024,"month":1,"date":2,"hours":15,"minutes":54,"seconds":58,"milliseconds":260},{"year":2024,"month":1,"date":2,"hours":16,"minutes":41,"seconds":14,"milliseconds":300}], "nice": false, "padding": 0}, "axis": null},
  "y": {"field": "vma", "type": "quantitative", "scale": {"domain": [-170, 310], "range": [917, 869], "nice": false, "zero": false}, "axis": null}}},
{"data": {"name": "candles"},
 "transform": [{"filter": "datum.vc == 'up'"}],
 "mark": {"type": "bar", "clip": true, "size": 9, "stroke": "#0A5CC8", "strokeWidth": 1.3, "fill": {"gradient": "linear", "x1": 0, "y1": 0, "x2": 1, "y2": 0, "stops": [{"offset": 0, "color": "#6CBDFF"}, {"offset": 1, "color": "#1C86EE"}]}},
 "encoding": {
  "x": {"field": "t", "type": "temporal", "scale": {"domain": [{"year":2024,"month":1,"date":2,"hours":15,"minutes":54,"seconds":58,"milliseconds":260},{"year":2024,"month":1,"date":2,"hours":16,"minutes":41,"seconds":14,"milliseconds":300}], "nice": false, "padding": 0}, "axis": null},
  "y": {"field": "vol", "type": "quantitative", "scale": {"domain": [-170, 310], "range": [917, 869], "nice": false, "zero": false}, "axis": null},
  "y2": {"datum": 0}}},
{"data": {"name": "candles"},
 "transform": [{"filter": "datum.vc == 'dn'"}],
 "mark": {"type": "bar", "clip": true, "size": 9, "stroke": "#585858", "strokeWidth": 1.3, "fill": {"gradient": "linear", "x1": 0, "y1": 0, "x2": 1, "y2": 0, "stops": [{"offset": 0, "color": "#C8C8C8"}, {"offset": 1, "color": "#8A8A8A"}]}},
 "encoding": {
  "x": {"field": "t", "type": "temporal", "scale": {"domain": [{"year":2024,"month":1,"date":2,"hours":15,"minutes":54,"seconds":58,"milliseconds":260},{"year":2024,"month":1,"date":2,"hours":16,"minutes":41,"seconds":14,"milliseconds":300}], "nice": false, "padding": 0}, "axis": null},
  "y": {"field": "vol", "type": "quantitative", "scale": {"domain": [-170, 310], "range": [917, 869], "nice": false, "zero": false}, "axis": null},
  "y2": {"datum": 0}}},
{"data": {"name": "ticks"},
 "mark": {"type": "rule", "clip": true, "color": "#303040", "strokeWidth": 1},
 "encoding": {
  "x": {"field": "t", "type": "temporal", "scale": {"domain": [{"year":2024,"month":1,"date":2,"hours":15,"minutes":54,"seconds":58,"milliseconds":260},{"year":2024,"month":1,"date":2,"hours":16,"minutes":41,"seconds":14,"milliseconds":300}], "nice": false, "padding": 0}, "axis": null},
  "y": {"datum": 0, "type": "quantitative", "scale": {"domain": [-170, 310], "range": [917, 869], "nice": false, "zero": false}, "axis": null},
  "y2": {"datum": -35}}},
{"data": {"name": "ticks"},
 "transform": [{"filter": "datum.lab != '16:00'"}],
 "mark": {"type": "text", "clip": true, "align": "center", "baseline": "middle", "font": "Liberation Sans", "fontSize": 12, "color": "#1A1A1A"},
 "encoding": {
  "x": {"field": "t", "type": "temporal", "scale": {"domain": [{"year":2024,"month":1,"date":2,"hours":15,"minutes":54,"seconds":58,"milliseconds":260},{"year":2024,"month":1,"date":2,"hours":16,"minutes":41,"seconds":14,"milliseconds":300}], "nice": false, "padding": 0}, "axis": null},
  "y": {"datum": -105, "type": "quantitative", "scale": {"domain": [-170, 310], "range": [917, 869], "nice": false, "zero": false}, "axis": null},
  "text": {"field": "lab"}}},
{"data": {"name": "ticks"},
 "transform": [{"filter": "datum.lab == '16:00'"}],
 "mark": {"type": "text", "clip": true, "align": "center", "baseline": "middle", "font": "Liberation Sans", "fontSize": 13, "fontWeight": "bold", "color": "#101010"},
 "encoding": {
  "x": {"field": "t", "type": "temporal", "scale": {"domain": [{"year":2024,"month":1,"date":2,"hours":15,"minutes":54,"seconds":58,"milliseconds":260},{"year":2024,"month":1,"date":2,"hours":16,"minutes":41,"seconds":14,"milliseconds":300}], "nice": false, "padding": 0}, "axis": null},
  "y": {"datum": -105, "type": "quantitative", "scale": {"domain": [-170, 310], "range": [917, 869], "nice": false, "zero": false}, "axis": null},
  "text": {"field": "lab"}}},
{"data": {"name": "one"},
 "mark": {"type": "rule", "clip": true, "color": "#8088A0", "strokeWidth": 1},
 "encoding": {
  "x": {"datum": {"year":2024,"month":1,"date":2,"hours":15,"minutes":54,"seconds":58,"milliseconds":260}, "type": "temporal", "scale": {"domain": [{"year":2024,"month":1,"date":2,"hours":15,"minutes":54,"seconds":58,"milliseconds":260},{"year":2024,"month":1,"date":2,"hours":16,"minutes":41,"seconds":14,"milliseconds":300}], "nice": false, "padding": 0}, "axis": null},
  "x2": {"datum": {"year":2024,"month":1,"date":2,"hours":16,"minutes":41,"seconds":14,"milliseconds":300}},
  "y": {"datum": 305, "type": "quantitative", "scale": {"domain": [-170, 310], "range": [917, 869], "nice": false, "zero": false}, "axis": null}}}
]
}
